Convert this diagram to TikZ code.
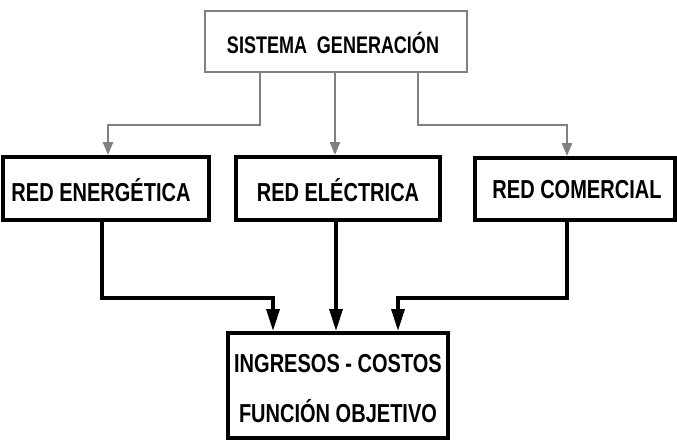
\documentclass[tikz,border=0pt]{standalone}
\usepackage{fontspec}
\setmainfont{Liberation Sans}
\usetikzlibrary{arrows.meta}
\newcommand{\nt}[2][0.77]{\scalebox{#1}[1]{#2}}
\begin{document}
\begin{tikzpicture}[x=1pt,y=-1pt,
  box/.style={draw=black,line width=4pt,fill=white,inner sep=0pt},
  gbox/.style={draw=black!50,line width=2.8pt,fill=white,inner sep=0pt},
  lbl/.style={font=\bfseries\fontsize{26}{30}\selectfont},
  blk/.style={draw=black,line width=3.4pt,-{Triangle[length=22pt,width=13pt]}},
  gry/.style={draw=black!50,line width=2.6pt,-{Triangle[length=13pt,width=10pt]}}]
\useasboundingbox (0,0) rectangle (677,439);
\node[gbox,minimum width=262,minimum height=61] (gen) at (336,41.5) {};
\node[lbl] at (333,43) {\nt[0.75]{\fontsize{24}{28}\selectfont SISTEMA\ \ GENERACIÓN}};
\node[box,minimum width=206,minimum height=63] (ene) at (106,188.5) {};
\node[lbl] at (101,190) {\nt{RED ENERGÉTICA}};
\node[box,minimum width=204,minimum height=63] (ele) at (338,188.5) {};
\node[lbl] at (338,190) {\nt{RED ELÉCTRICA}};
\node[box,minimum width=200,minimum height=62] (com) at (575,189) {};
\node[lbl] at (577,190) {\nt{RED COMERCIAL}};
\node[box,minimum width=220,minimum height=105] (obj) at (338,385.5) {};
\node[lbl] (ing) at (338,364) {\nt{INGRESOS - COSTOS}};
\node[lbl] (fun) at (338,411) {\nt{FUNCIÓN OBJETIVO}};
\coordinate (g1) at (260,125);
\coordinate (g3) at (418,125);
\coordinate (b1) at (102,298);
\coordinate (b3) at (567,298);
\draw[gry] (gen.south -| g1) -- (g1) -- (g1 -| 108,0) -- (108,0 |- ene.north);
\draw[gry] (335,0 |- gen.south) -- (335,0 |- ele.north);
\draw[gry] (gen.south -| g3) -- (g3) -- (g3 -| 567,0) -- (567,0 |- com.north);
\draw[blk] (ene.south -| b1) -- (b1) -- (b1 -| 273,0) -- (273,0 |- obj.north);
\draw[blk] (336,0 |- ele.south) -- (336,0 |- obj.north);
\draw[blk] (com.south -| b3) -- (b3) -- (b3 -| 398,0) -- (398,0 |- obj.north);
\end{tikzpicture}
\end{document}
